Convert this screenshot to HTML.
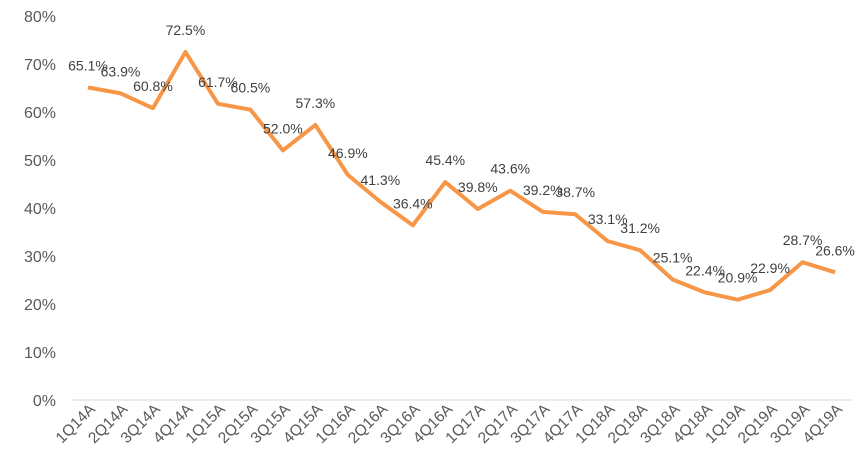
<!DOCTYPE html><html><head><style>body{margin:0;background:#fff}svg{display:block}text{font-family:"Liberation Sans",sans-serif}</style></head><body>
<svg width="864" height="462" xmlns="http://www.w3.org/2000/svg" id="s"></svg>
<script>
const d=[65.1,63.9,60.8,72.5,61.7,60.5,52.0,57.3,46.9,41.3,36.4,45.4,39.8,43.6,39.2,38.7,33.1,31.2,25.1,22.4,20.9,22.9,28.7,26.6];
const lab=["1Q14A","2Q14A","3Q14A","4Q14A","1Q15A","2Q15A","3Q15A","4Q15A","1Q16A","2Q16A","3Q16A","4Q16A","1Q17A","2Q17A","3Q17A","4Q17A","1Q18A","2Q18A","3Q18A","4Q18A","1Q19A","2Q19A","3Q19A","4Q19A"];
const X=i=>88+i*32.48, Y=v=>400-v*4.8;
let h='';
for(let k=0;k<=8;k++){h+=`<text x="56" y="${Y(k*10)+6}" text-anchor="end" font-size="16" fill="#595959">${k*10}%</text>`;}
h+=`<line x1="72" y1="400" x2="852" y2="400" stroke="#d9d9d9" stroke-width="1"/>`;
h+=`<polyline fill="none" stroke="#f79646" stroke-width="4" stroke-linejoin="round" points="${d.map((v,i)=>X(i)+','+Y(v)).join(' ')}"/>`;
d.forEach((v,i)=>{h+=`<text x="${X(i)}" y="${Y(v)-17}" text-anchor="middle" font-size="14" fill="#404040">${v.toFixed(1)}%</text>`;
h+=`<text transform="translate(${X(i)+8},410) rotate(-45)" text-anchor="end" font-size="15.5" fill="#595959">${lab[i]}</text>`;});
document.getElementById('s').innerHTML=h;
</script></body></html>
